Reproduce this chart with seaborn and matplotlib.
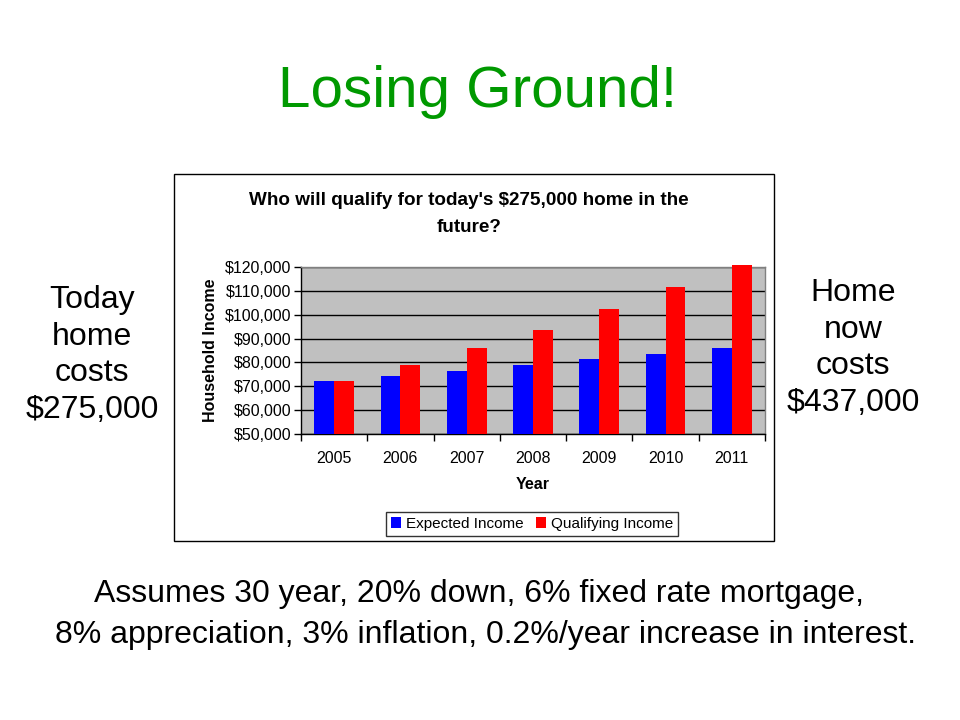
import pandas as pd
import matplotlib
matplotlib.use("Agg")
import matplotlib.pyplot as plt
import matplotlib.ticker as mticker
from matplotlib.patches import Rectangle
import seaborn as sns

# Chart values
years = ["2005", "2006", "2007", "2008", "2009", "2010", "2011"]
expected_income = [72200, 74300, 76400, 78900, 81400, 83500, 86000]
qualifying_income = [72300, 79000, 86200, 93700, 102200, 111700, 121000]
series_names = ["Expected Income", "Qualifying Income"]

df = pd.DataFrame({
    "Year": years * 2,
    "Income": expected_income + qualifying_income,
    "Series": [series_names[0]] * len(years) + [series_names[1]] * len(years),
})

sns.set_style("white")
plt.rcParams["font.family"] = ["Liberation Sans", "DejaVu Sans"]
plt.rcParams["text.color"] = "black"
plt.rcParams["axes.labelcolor"] = "black"
plt.rcParams["xtick.color"] = "black"
plt.rcParams["ytick.color"] = "black"

W, H = 960, 720
fig = plt.figure(figsize=(W / 100, H / 100), dpi=100)
fig.patch.set_facecolor("white")


def fx(px):
    return px / W


def fy(py):
    return 1 - py / H


# Slide text
fig.text(fx(478), fy(92), "Losing Ground!", color="#009900", fontsize=42,
         ha="center", va="center")
fig.text(fx(92), fy(355), "Today\nhome\ncosts\n$275,000", fontsize=23,
         ha="center", va="center", linespacing=1.3)
fig.text(fx(853), fy(348), "Home\nnow\ncosts\n$437,000", fontsize=23,
         ha="center", va="center", linespacing=1.3)
fig.text(fx(479), fy(594), "Assumes 30 year, 20% down, 6% fixed rate mortgage,",
         fontsize=23, ha="center", va="center")
fig.text(fx(485), fy(635),
         "8% appreciation, 3% inflation, 0.2%/year increase in interest.",
         fontsize=23, ha="center", va="center")

# Chart frame
fig.patches.append(Rectangle((fx(174), fy(541)), fx(600), 367 / H,
                             transform=fig.transFigure, facecolor="white",
                             edgecolor="black", lw=1, zorder=-1))
fig.text(fx(469), fy(214), "Who will qualify for today's $275,000 home in the\nfuture?",
         fontsize=13.6, fontweight="bold", ha="center", va="center", linespacing=1.7)

ax = fig.add_axes([fx(301), fy(434), fx(464), 167 / H])
ax.set_zorder(2)
sns.barplot(data=df, x="Year", y="Income", hue="Series",
            palette=["#0000FF", "#FF0000"], saturation=1, width=0.6,
            ax=ax, legend=True)

# let the tallest bar poke slightly above the plot area, like the original
clip = Rectangle((0, 0), 1, 1.05, transform=ax.transAxes, visible=False)
ax.add_patch(clip)
for p in ax.patches:
    if p is clip:
        continue
    p.set_edgecolor("none")
    p.set_clip_path(clip)
    p.set_zorder(3)

ax.set_facecolor("#C0C0C0")
ax.set_ylim(50000, 120000)
ax.set_xlim(-0.5, len(years) - 0.5)
ax.yaxis.set_major_locator(mticker.MultipleLocator(10000))
ax.yaxis.set_major_formatter(mticker.StrMethodFormatter("${x:,.0f}"))
ax.yaxis.grid(True, color="black", lw=1)
ax.set_axisbelow(True)
for s in ax.spines.values():
    s.set_color("#808080")
    s.set_linewidth(1)
ax.spines["bottom"].set_color("black")
ax.spines["left"].set_color("black")

ax.tick_params(axis="y", which="major", length=5, width=1, color="black",
               labelsize=11.5, pad=2, left=True)
ax.tick_params(axis="x", which="major", length=0, labelsize=11.5, pad=12)
ax.set_xticks([i - 0.5 for i in range(len(years) + 1)], minor=True)
ax.tick_params(axis="x", which="minor", length=5, width=1, color="black", bottom=True)

ax.set_xlabel("Year", fontsize=11.5, fontweight="bold", labelpad=8)
ax.set_ylabel("Household Income", fontsize=11.5, fontweight="bold", labelpad=5)

leg = ax.legend(loc="center", bbox_to_anchor=(fx(532), fy(524)),
                bbox_transform=fig.transFigure, ncol=2, frameon=True,
                fancybox=False, edgecolor="black", fontsize=11,
                handlelength=0.7, handleheight=0.7, handletextpad=0.3,
                columnspacing=0.8, borderpad=0.3, title=None)
leg.get_frame().set_linewidth(1)

fig.savefig("out.png", dpi=100)
